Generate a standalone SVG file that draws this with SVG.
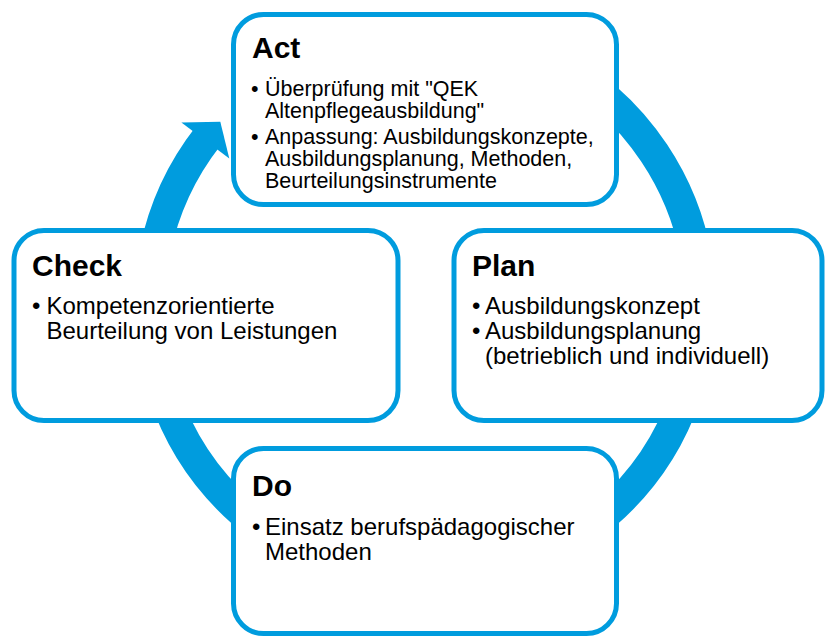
<svg xmlns="http://www.w3.org/2000/svg" width="826" height="636" viewBox="0 0 826 636">
<style>
.box{fill:#fff;stroke:#009CDE;stroke-width:5}
.ring{fill:none;stroke:#009CDE;stroke-width:31}
.head{fill:#009CDE}
.t{font-family:"Liberation Sans",Arial,sans-serif;font-weight:bold;font-size:30px;fill:#000}
.b{font-family:"Liberation Sans",Arial,sans-serif;font-size:24px;fill:#000}
.s{font-family:"Liberation Sans",Arial,sans-serif;font-size:21.5px;fill:#000}
</style>
<rect width="826" height="636" fill="#fff"/>
<g id="connectors">
<path class="ring" d="M 287.25 67.4 A 275.5 275.5 0 1 1 207.9 136.4"/>
<polygon class="head" points="181.4,122.4 220.3,121.7 229.3,158.6"/>
</g>
<g id="act">
<rect class="box" x="233.5" y="14.5" width="383" height="190" rx="30"/>
<text class="t" x="252" y="58">Act</text>
<text class="s" y="96"><tspan x="251">•</tspan><tspan x="265">Überprüfung mit "QEK</tspan></text>
<text class="s" x="265" y="118">Altenpflegeausbildung"</text>
<text class="s" y="144"><tspan x="251">•</tspan><tspan x="265">Anpassung: Ausbildungskonzepte,</tspan></text>
<text class="s" x="265" y="166">Ausbildungsplanung, Methoden,</text>
<text class="s" x="265" y="188">Beurteilungsinstrumente</text>
</g>
<g id="check">
<rect class="box" x="14" y="230.5" width="384" height="190" rx="30"/>
<text class="t" x="32" y="276">Check</text>
<text class="b" y="314"><tspan x="32">•</tspan><tspan x="46.5">Kompetenzorientierte</tspan></text>
<text class="b" x="46.5" y="339">Beurteilung von Leistungen</text>
</g>
<g id="plan">
<rect class="box" x="454" y="230.5" width="368" height="190" rx="30"/>
<text class="t" x="472" y="276">Plan</text>
<text class="b" y="314"><tspan x="472">•</tspan><tspan x="485">Ausbildungskonzept</tspan></text>
<text class="b" y="339"><tspan x="472">•</tspan><tspan x="485">Ausbildungsplanung</tspan></text>
<text class="b" x="485" y="364">(betrieblich und individuell)</text>
</g>
<g id="do">
<rect class="box" x="233.5" y="448.5" width="383" height="185" rx="30"/>
<text class="t" x="252" y="496">Do</text>
<text class="b" y="535"><tspan x="252">•</tspan><tspan x="265">Einsatz berufspädagogischer</tspan></text>
<text class="b" x="265" y="560">Methoden</text>
</g>
</svg>
